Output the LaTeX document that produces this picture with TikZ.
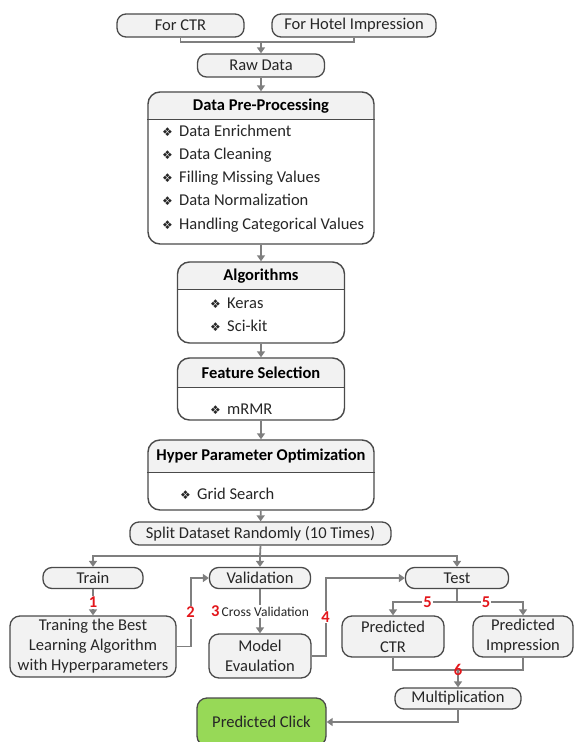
\documentclass[tikz,border=0pt]{standalone}
\usepackage{fontspec}
\setmainfont{Carlito}
\newfontfamily\symfont{DejaVu Sans}
\usepackage{xcolor}
\usetikzlibrary{arrows.meta,positioning,calc,backgrounds}
\definecolor{flowInk}{HTML}{4A4A4A}
\definecolor{flowText}{HTML}{262626}
\definecolor{flowLine}{HTML}{7F7F7F}
\definecolor{flowFill}{HTML}{F2F2F2}
\definecolor{flowGreen}{HTML}{97D957}
\definecolor{flowRed}{HTML}{E3161B}
\newcommand{\bul}{\makebox[17pt][l]{\symfont\fontsize{12}{12}\selectfont\char"2756}}

\begin{document}
\begin{tikzpicture}[
  x=1pt,y=-1pt,
  font=\fontsize{16.5}{20}\selectfont,
  text=flowText,
  pill/.style={draw=flowInk,fill=flowFill,line width=1.3pt,rounded corners=9pt,
               minimum height=23pt,inner sep=0pt},
  rbox/.style={draw=flowInk,fill=flowFill,line width=1.3pt,rounded corners=10pt,
               align=center,inner sep=0pt},
  sec/.style={draw=flowInk,line width=1.4pt,rounded corners=12pt,inner sep=0pt},
  hdr/.style={font=\fontsize{16.5}{20}\selectfont\bfseries,text=black},
  item/.style={anchor=west,inner sep=0pt,text height=11pt,text depth=4pt},
  arr/.style={-{Triangle[length=6pt,width=8pt]},flowLine,line width=1.8pt},
  ln/.style={flowLine,line width=1.8pt},
  num/.style={text=flowRed,font=\fontsize{16.5}{16}\selectfont\bfseries,
              fill=white,inner sep=1pt}
]
\useasboundingbox (0,0) rectangle (574,742);

% Sources
\node[pill,minimum width=127pt] (ctr)   at (180.5,25.5) {For CTR};
\node[pill,minimum width=164pt] (hotel) at (354,25.5)   {For Hotel Impression};
\node[pill,minimum width=127pt] (raw)   at (261,65.5)   {Raw Data};

% Section boxes
\node[sec,minimum width=226pt,minimum height=152pt] (prep) at (261,168)   {};
\node[sec,minimum width=167pt,minimum height=81pt]  (algo) at (261,302.5) {};
\node[sec,minimum width=167pt,minimum height=62pt]  (feat) at (261,389)   {};
\node[sec,minimum width=226pt,minimum height=70pt]  (hpo)  at (261,475)   {};

% Header shading and rules
\begin{scope}[on background layer]
\foreach \b/\h in {prep/28,algo/28,feat/30,hpo/33}{
  \begin{scope}
    \clip[rounded corners=12pt] (\b.south west) rectangle (\b.north east);
    \fill[flowFill] (\b.north west) rectangle ([yshift=-\h pt]\b.north east);
  \end{scope}
  \draw[flowInk,line width=1pt] ([yshift=-\h pt]\b.north west) -- ([yshift=-\h pt]\b.north east);
}
\end{scope}

% Headers
\node[hdr] (prephdr) at (261,106) {Data Pre-Processing};
\node[hdr] (algohdr) at (261,276) {Algorithms};
\node[hdr] (feathdr) at (261,373) {Feature Selection};
\node[hdr] (hpohdr)  at (261,456) {Hyper Parameter Optimization};

% Items
\foreach \t [count=\i] in {Data Enrichment,Data Cleaning,Filling Missing Values,
                           Data Normalization,Handling Categorical Values}
  \node[item] (prep\i) at (162,109.5+23.2*\i) {\bul\t};
\node[item] (algo1) at (210,305) {\bul Keras};
\node[item] (algo2) at (210,328) {\bul Sci-kit};
\node[item] (feat1) at (210,411) {\bul mRMR};
\node[item] (hpo1)  at (180,496) {\bul Grid Search};

% Split and stages
\node[pill,minimum width=261pt] (split) at (260.5,533.5) {Split Dataset Randomly (10 Times)};
\node[pill,minimum width=100pt,minimum height=21pt] (train) at (93,578)    {Train};
\node[pill,minimum width=101pt,minimum height=21pt] (valid) at (260,578)   {Validation};
\node[pill,minimum width=103pt,minimum height=21pt] (test)  at (457,578)   {Test};

\node[rbox,minimum width=166pt,minimum height=61pt] (best)  at (93,646.5)
  {Traning the Best\\Learning Algorithm\\with Hyperparameters};
\node[rbox,minimum width=102pt,minimum height=44pt] (model) at (260,656)  {Model\\Evaulation};
\node[rbox,minimum width=102pt,minimum height=41pt] (pctr)  at (393,636.5) {Predicted\\CTR};
\node[rbox,minimum width=100pt,minimum height=41pt] (pimp)  at (523,636.5) {Predicted\\Impression};
\node[pill,minimum width=126pt,minimum height=21pt] (mult)  at (458,698.5) {Multiplication};
\node[rbox,fill=flowGreen,minimum width=129pt,minimum height=48pt] (click) at (261.5,722)
  {Predicted Click};

% Junctions
\coordinate (j1) at (261,42);
\coordinate (j2) at (260,556);
\coordinate (j3) at (457,602);
\coordinate (j4) at (458,670);

% Connectors
\draw[ln]  (ctr.south) |- (j1) -| (hotel.south);
\draw[arr] (j1) -- (raw.north);
\draw[arr] (raw) -- (prep);
\draw[arr] (prep) -- (algo);
\draw[arr] (algo) -- (feat);
\draw[arr] (feat) -- (hpo);
\draw[arr] (hpo) -- (split);
\draw[ln]  (split.south) -- (j2);
\draw[arr] (j2) -| (train.north);
\draw[arr] (j2) -- (valid.north);
\draw[arr] (j2) -| (test.north);
\draw[arr] (train) -- node[num]{1} (best);
\draw[arr] (best.east) -- ++(14,0) |- node[num,pos=0.25]{2} (valid.west);
\draw[arr] (valid) -- node[fill=white,inner sep=1pt,text=flowText,font=\fontsize{13.5}{14}\selectfont]
  {\textcolor{flowRed}{\fontsize{16.5}{16}\selectfont\bfseries 3}\,Cross Validation} (model);
\draw[arr] (model.east) -- ++(14,0) |- node[num,pos=0.25]{4} (test.west);
\draw[ln]  (test.south) -- (j3);
\draw[arr] (j3) -| node[num,pos=0.23]{5} (pctr.north);
\draw[arr] (j3) -| node[num,pos=0.22]{5} (pimp.north);
\draw[ln]  (pctr.south) |- (j4) -| (pimp.south);
\draw[arr] (j4) -- (mult.north);
\node[num,fill=none] (six) at (j4) {6};
\draw[arr] (mult.south) |- (click.east);
\end{tikzpicture}
\end{document}
